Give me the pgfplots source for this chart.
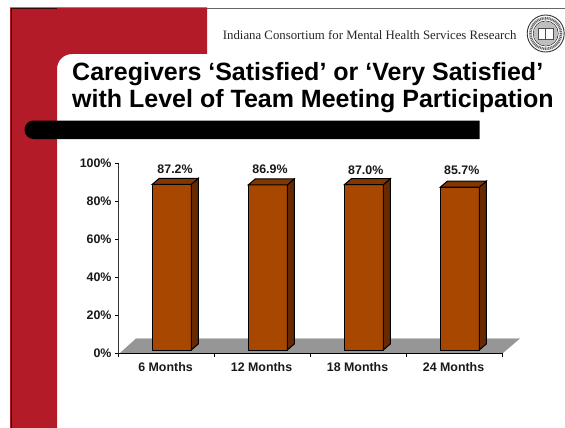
\documentclass[border=0pt]{standalone}
\usepackage{pgfplots}
\pgfplotsset{compat=1.18}
\usepackage{fontspec}
\setmainfont{Liberation Sans}
\newfontfamily\serifhead{Liberation Serif}
\definecolor{slidered}{HTML}{B31B28}
\definecolor{barfront}{HTML}{A84700}
\definecolor{barside}{HTML}{662900}
\definecolor{bartop}{HTML}{833600}
\definecolor{floorgray}{HTML}{969696}

% side and top face of one bar: centre x, value
\newcommand{\barfaces}[2]{
  \addplot[fill=barside, draw=black, line width=1pt, yshift=3.5pt] coordinates {
    (#1+0.203,0) (#1+0.276,3.16) (#1+0.276,#2+3.16) (#1+0.203,#2)} --cycle;
  \addplot[fill=bartop, draw=black, line width=1pt, yshift=3.5pt] coordinates {
    (#1-0.203,#2) (#1-0.130,#2+3.16) (#1+0.276,#2+3.16) (#1+0.203,#2)} --cycle;
}

\begin{document}
\begin{tikzpicture}
  \useasboundingbox (0pt,0pt) rectangle (565pt,-428pt);
  \begin{scope}[x=1pt,y=-1pt]
    % slide background
    \fill[white] (0,0) rectangle (565,428);
    \draw[gray!80!black, line width=1pt] (207,8.5) -- (565,8.5);
    \fill[slidered] (10,7.5) -- (207,7.5) -- (207,54) -- (72,54)
      .. controls (63.7,54) and (57,60.7) .. (57,69) -- (57,428) -- (10,428) -- cycle;
    \draw[black!70!slidered, line width=1pt] (11,8.5) -- (57,8.5);
    \draw[black, line width=1pt] (11,8.5) -- (11,428);
    \fill[black] (479.5,120.5) -- (479.5,139) -- (33.75,139)
      .. controls (28.6,139) and (24.5,134.9) .. (24.5,129.75)
      .. controls (24.5,124.6) and (28.6,120.5) .. (33.75,120.5) -- cycle;
    % header and title
    \node[anchor=base west, inner sep=0pt, text=black!85] at (222.7,40)
      {\serifhead\fontsize{12.8}{14}\selectfont Indiana Consortium for Mental Health Services Research};
    \node[anchor=base west, inner sep=0pt] at (72,81)
      {\bfseries\fontsize{25}{26}\selectfont Caregivers ‘Satisfied’ or ‘Very Satisfied’};
    \node[anchor=base west, inner sep=0pt] at (72,107)
      {\bfseries\fontsize{25}{26}\selectfont with Level of Team Meeting Participation};
    % seal
    \draw[black!80, line width=0.9pt] (545.7,33.5) circle[radius=18.5];
    \draw[black!60, line width=2.6pt, dash pattern=on 1pt off 0.7pt] (545.7,33.5) circle[radius=15.3];
    \draw[black!80, line width=0.7pt] (545.7,33.5) circle[radius=12.5];
    \fill[black!25] (545.7,33.5) circle[radius=12];
    \draw[black!70, fill=white, line width=0.7pt] (538.5,28) rectangle (545.7,39);
    \draw[black!70, fill=white, line width=0.7pt] (545.7,28) rectangle (552.9,39);
    % floor
    \fill[floorgray] (120,353) -- (136,338.5) -- (520,338.5) -- (503,353) -- cycle;
    \draw[black!22, line width=1pt] (136,338) -- (520,338);
  \end{scope}
  \begin{axis}[
    at={(118.5pt,-353.5pt)}, anchor=south west,
    scale only axis, width=384pt, height=190pt,
    xmin=0, xmax=4, ymin=0, ymax=100,
    clip=false,
    axis x line=bottom, axis y line=left,
    axis line style={-},
    x axis line style={line width=1.5pt},
    y axis line style={line width=0.8pt, black!80},
    tick align=outside,
    xtick={0.49,1.49,2.49,3.49},
    xticklabels={6 Months,12 Months,18 Months,24 Months},
    minor xtick={0,1,2,3,4},
    major x tick style={draw=none},
    minor tick length=3.5pt,
    minor x tick style={black, line width=0.8pt},
    ytick={0,20,40,60,80,100},
    yticklabels={0\%,20\%,40\%,60\%,80\%,100\%},
    major tick length=3.5pt,
    y tick style={black, line width=0.8pt},
    ticklabel style={font=\bfseries\fontsize{12.4}{14}\selectfont, text=black!90},
    xticklabel style={yshift=-2pt},
    yticklabel style={xshift=0pt},
  ]
    \addplot[ybar, bar width=38.5pt, bar shift=0pt, fill=barfront, draw=black,
      line width=1pt, yshift=3.5pt] coordinates {
      (0.555,87.2) (1.555,86.9) (2.555,87.0) (3.555,85.7)};
    \barfaces{0.555}{87.2}
    \barfaces{1.555}{86.9}
    \barfaces{2.555}{87.0}
    \barfaces{3.555}{85.7}
    % value labels sit at nearly the same height above the bars
    \addplot[draw=none, mark=none, point meta=explicit symbolic, nodes near coords,
      every node near coord/.append style={anchor=center, inner sep=0pt,
        font=\bfseries\fontsize{12.4}{14}\selectfont, text=black!90}] coordinates {
      (0.589,97.1)[87.2\%] (1.578,97.0)[86.9\%] (2.575,96.7)[87.0\%] (3.575,96.7)[85.7\%]};
  \end{axis}
\end{tikzpicture}
\end{document}
